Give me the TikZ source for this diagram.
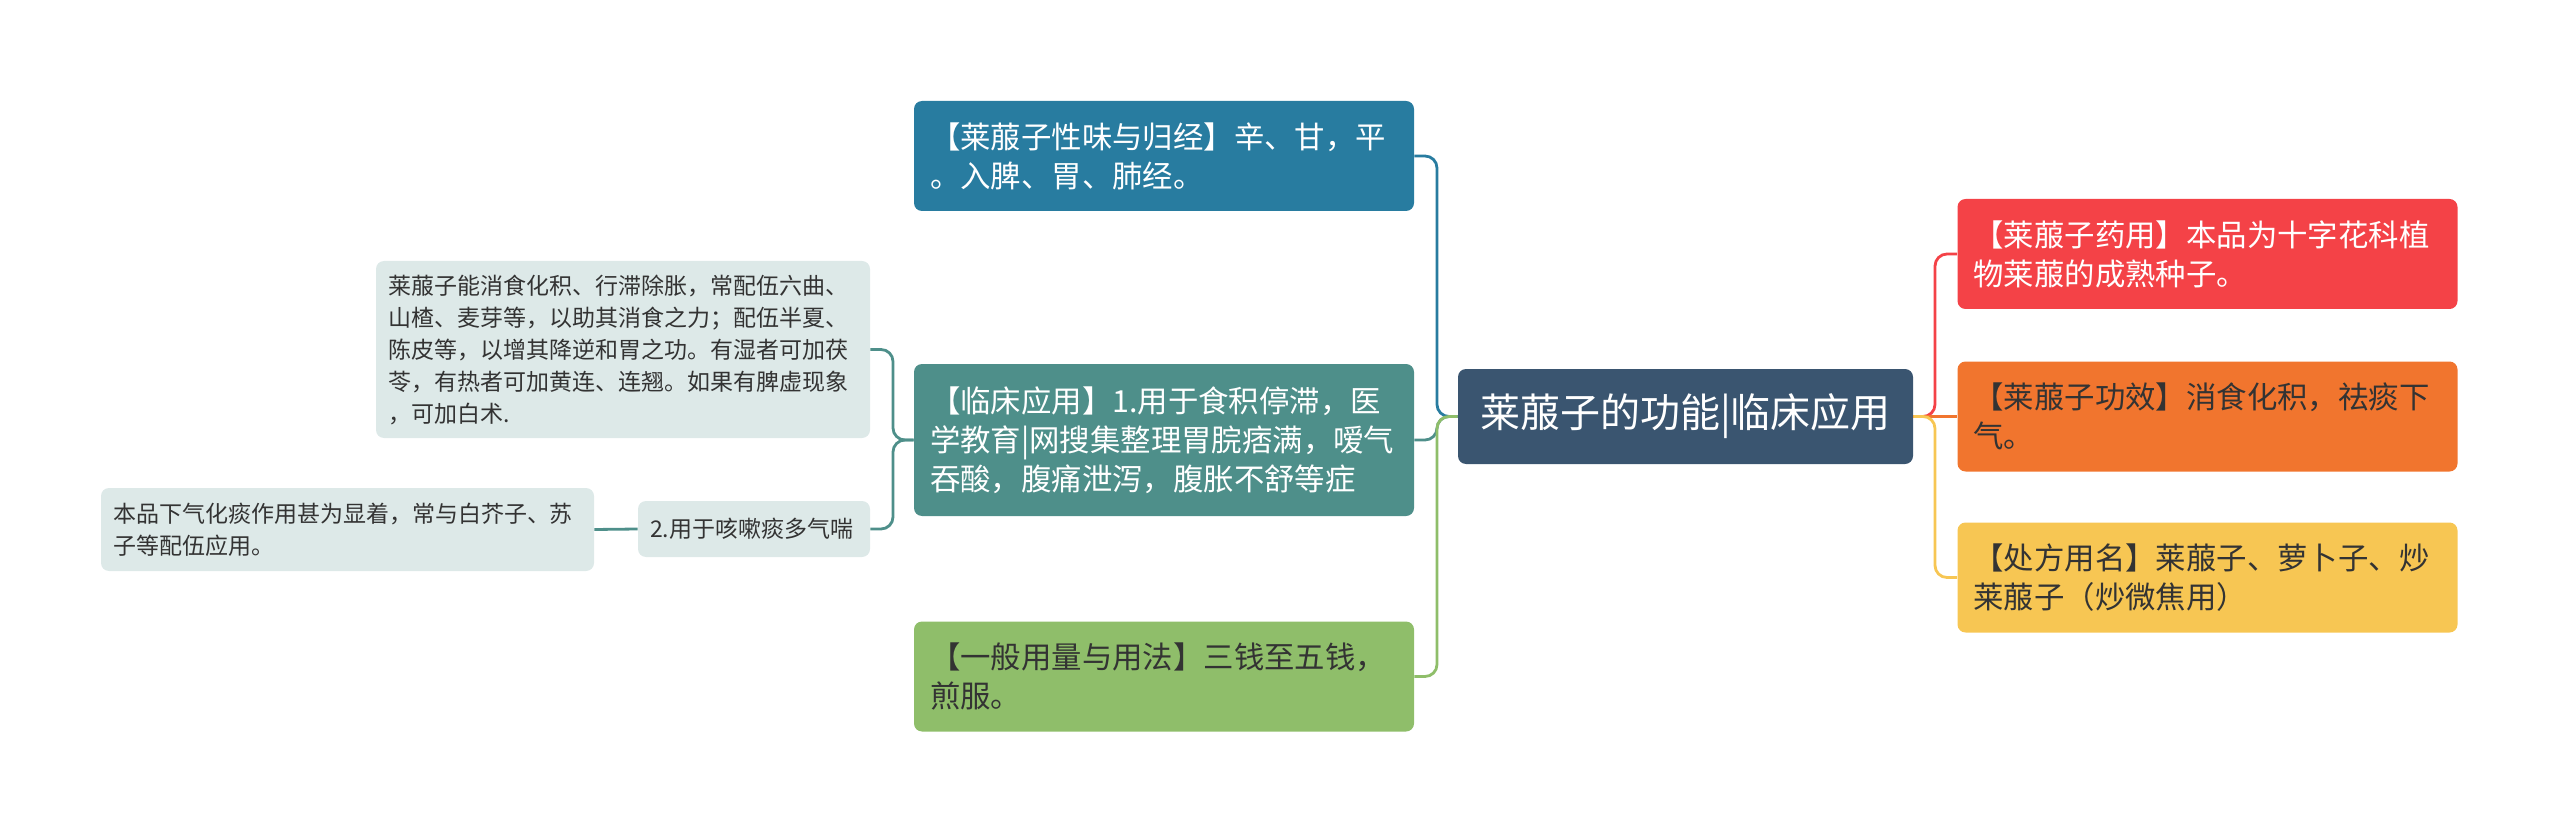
\documentclass[tikz,border=0pt]{standalone}
\usepackage{fontspec}
\setmainfont{Noto Sans CJK SC}
\definecolor{rootblue}{RGB}{58,85,112}
\definecolor{tasteblue}{RGB}{40,124,160}
\definecolor{clinicteal}{RGB}{78,143,138}
\definecolor{dosegreen}{RGB}{143,190,106}
\definecolor{sourcered}{RGB}{244,66,71}
\definecolor{effectorange}{RGB}{241,117,46}
\definecolor{recipeyellow}{RGB}{247,198,83}
\definecolor{notegray}{RGB}{221,233,232}
\definecolor{darktext}{RGB}{51,51,51}
\usepackage{tikz}

\begin{document}
\begin{tikzpicture}[x=0.5pt,y=-0.5pt,
      box/.style={rounded corners=4pt,align=left,inner xsep=8pt,inner ysep=0pt},
      main/.style={box,text width=234pt,minimum height=55pt,
                   font=\fontsize{15.2pt}{19.5pt}\selectfont},
      note/.style={box,fill=notegray,text=darktext,inner xsep=6pt,
                   font=\fontsize{11.5pt}{16pt}\selectfont},
      link/.style={line width=1.4pt,rounded corners=6pt}]
      \useasboundingbox (0,0) rectangle (2560,834);
      \node[box,fill=rootblue,text=white,align=center,minimum width=227.5pt,minimum height=47.5pt,
            font=\fontsize{20pt}{24pt}\selectfont] (root) at (1685.5,416.5) {莱菔子的功能|临床应用};
      \node[main,fill=tasteblue,text=white] (taste) at (1164,156) {【莱菔子性味与归经】辛、甘，平\\。入脾、胃、肺经。};
      \node[main,fill=clinicteal,text=white,minimum height=76pt] (clinic) at (1164,440) {【临床应用】1.用于食积停滞，医\\学教育|网搜集整理胃脘痞满，嗳气\\吞酸，腹痛泄泻，腹胀不舒等症};
      \node[main,fill=dosegreen,text=darktext] (dosage) at (1164,676.5) {【一般用量与用法】三钱至五钱，\\煎服。};
      \node[main,fill=sourcered,text=white] (source) at (2207.5,254) {【莱菔子药用】本品为十字花科植\\物莱菔的成熟种子。};
      \node[main,fill=effectorange,text=darktext] (effect) at (2207.5,416.5) {【莱菔子功效】消食化积，祛痰下\\气。};
      \node[main,fill=recipeyellow,text=darktext] (recipe) at (2207.5,577.5) {【处方用名】莱菔子、萝卜子、炒\\莱菔子（炒微焦用）};
      \node[note,text width=235pt,minimum height=88.5pt] (digest) at (623,349.5) {莱菔子能消食化积、行滞除胀，常配伍六曲、\\山楂、麦芽等，以助其消食之力；配伍半夏、\\陈皮等，以增其降逆和胃之功。有湿者可加茯\\苓，有热者可加黄连、连翘。如果有脾虚现象\\，可加白术.};
      \node[note,text width=104pt,minimum height=28pt] (cough) at (754,529) {2.用于咳嗽痰多气喘};
      \node[note,text width=234.5pt,minimum height=41.5pt] (coughnote) at (347.5,529.5) {本品下气化痰作用甚为显着，常与白芥子、苏\\子等配伍应用。};
      \coordinate (ltrunk) at (1437,416.5);
      \coordinate (rtrunk) at (1935,416.5);
      \coordinate (ctrunk) at (893,440);
      \draw[link,tasteblue] (root.west) -- (ltrunk) |- (taste.east);
      \draw[link,clinicteal] (root.west) -- (ltrunk) |- (clinic.east);
      \draw[link,dosegreen] (root.west) -- (ltrunk) |- (dosage.east);
      \draw[link,sourcered] (root.east) -- (rtrunk) |- (source.west);
      \draw[link,effectorange] (root.east) -- (effect.west);
      \draw[link,recipeyellow] (root.east) -- (rtrunk) |- (recipe.west);
      \draw[link,clinicteal] (clinic.west) -- (ctrunk) |- (digest.east);
      \draw[link,clinicteal] (clinic.west) -- (ctrunk) |- (cough.east);
      \draw[link,clinicteal] (cough.west) -- (coughnote.east);
    \end{tikzpicture}
\end{document}
